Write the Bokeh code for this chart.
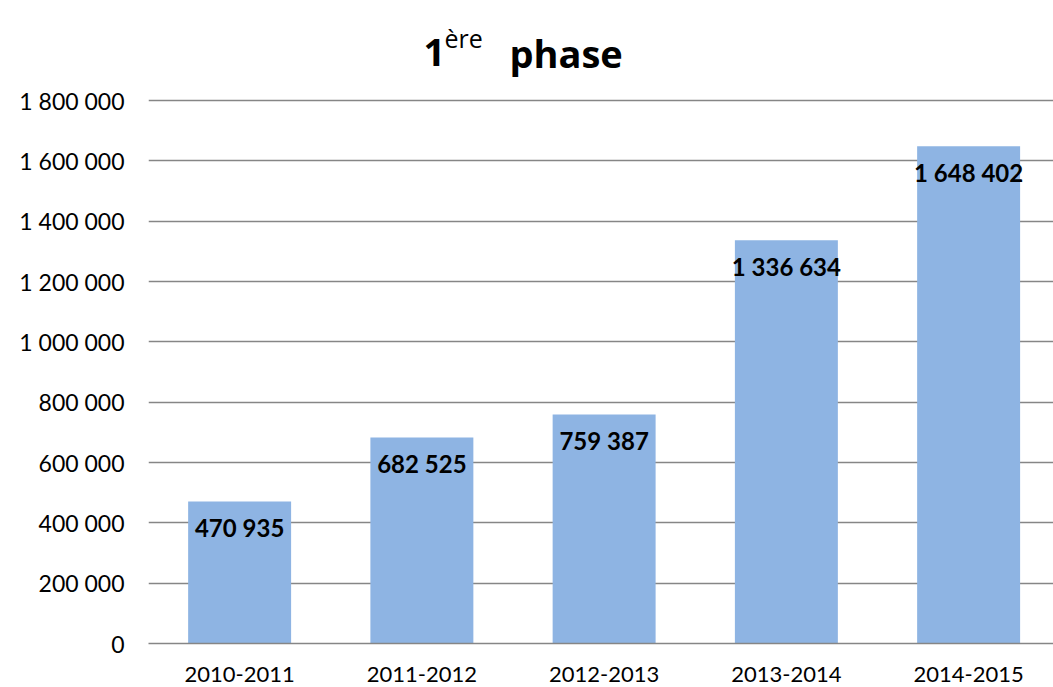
from bokeh.plotting import figure
from bokeh.models import ColumnDataSource, FixedTicker, Label, Range1d
from bokeh.core.properties import value
from bokeh.embed import file_html
from bokeh.resources import INLINE

categories = ["2010-2011", "2011-2012", "2012-2013", "2013-2014", "2014-2015"]
values = [470935, 682525, 759387, 1336634, 1648402]
tick_values = [0, 200000, 400000, 600000, 800000, 1000000, 1200000, 1400000, 1600000, 1800000]


def fmt(v):
    return f"{v:,}".replace(",", " ")


positions = [i + 0.5 for i in range(len(categories))]
source = ColumnDataSource(dict(x=positions, val=values, lab=[fmt(v) for v in values]))

W, H = 1053, 686
LEFT = 148
FRAME_TOP_IMG = 2
ZERO_IMG = 643
UNITS_PER_PX = 1800000 / 543
CAT_W = 182.25
y_end = (ZERO_IMG - FRAME_TOP_IMG) * UNITS_PER_PX
x_end = (W - LEFT) / CAT_W


def img_y(py):
    return (ZERO_IMG - py) * UNITS_PER_PX


def img_x(px):
    return (px - LEFT) / CAT_W


p = figure(x_range=Range1d(0, x_end), y_range=Range1d(0, y_end), width=W, height=H,
           output_backend="svg", toolbar_location=None,
           min_border_left=LEFT, min_border_right=0, min_border_top=FRAME_TOP_IMG,
           min_border_bottom=H - ZERO_IMG)
p.outline_line_color = None
p.background_fill_color = "white"
p.border_fill_color = "white"

p.vbar(x="x", top="val", width=0.565, source=source, fill_color="#8EB4E3", line_color=None)
p.text(x="x", y="val", text="lab", source=source, text_align="center", text_baseline="middle",
       y_offset=26, text_font=value("Lato"), text_font_style="bold", text_font_size="24px",
       text_color="black")

p.yaxis.ticker = FixedTicker(ticks=tick_values)
p.yaxis.major_label_overrides = {t: fmt(t) for t in tick_values}
p.yaxis.axis_line_color = None
p.yaxis.major_tick_line_color = None
p.yaxis.minor_tick_line_color = None
p.yaxis.major_label_standoff = 18
p.yaxis.major_label_text_font = "Lato"
p.yaxis.major_label_text_font_size = "23px"
p.yaxis.major_label_text_color = "black"

p.xaxis.ticker = FixedTicker(ticks=positions)
p.xaxis.major_label_overrides = {pos: c for pos, c in zip(positions, categories)}
p.xaxis.axis_line_color = "#868686"
p.xaxis.axis_line_width = 1.5
p.xaxis.major_tick_line_color = None
p.xaxis.minor_tick_line_color = None
p.xaxis.major_label_standoff = 17
p.xaxis.major_label_text_font = "Lato"
p.xaxis.major_label_text_font_size = "22px"
p.xaxis.major_label_text_color = "black"

p.xgrid.grid_line_color = None
p.ygrid.grid_line_color = "#868686"
p.ygrid.grid_line_width = 1.5

p.add_layout(Label(x=img_x(423), y=img_y(52), text="1",
                   text_font="Open Sans", text_font_style="bold", text_font_size="38px",
                   text_baseline="alphabetic", text_color="black"))
p.add_layout(Label(x=img_x(444), y=img_y(37), text="ère",
                   text_font="Open Sans", text_font_size="25px",
                   text_baseline="alphabetic", text_color="black"))
p.add_layout(Label(x=img_x(509), y=img_y(52), text="phase",
                   text_font="Open Sans", text_font_style="bold", text_font_size="38px",
                   text_baseline="alphabetic", text_color="black"))

open("out.html", "w").write(file_html(p, INLINE))
